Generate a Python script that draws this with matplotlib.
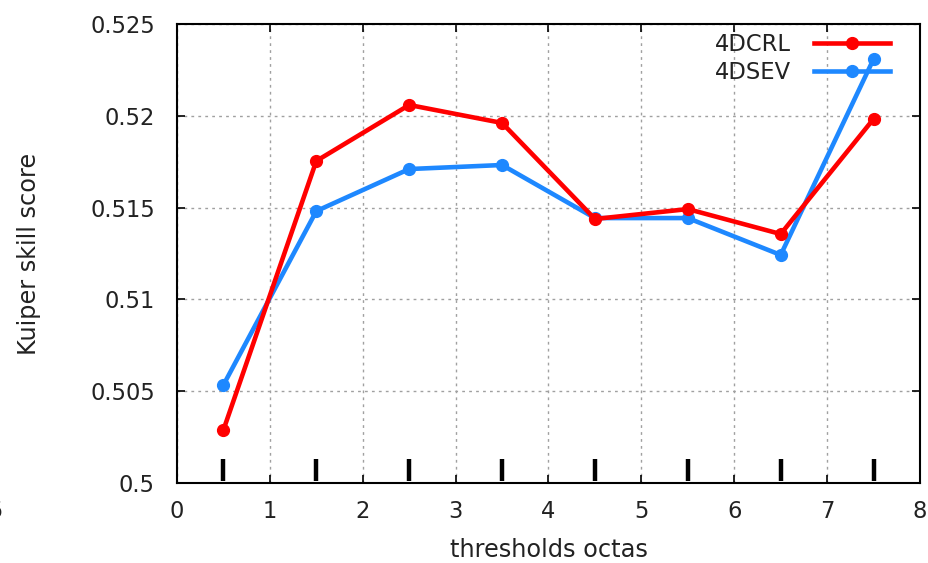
import matplotlib
matplotlib.use("Agg")
import matplotlib.pyplot as plt

thresholds = [0.5, 1.5, 2.5, 3.5, 4.5, 5.5, 6.5, 7.5]
crl = [0.50289, 0.51754, 0.52059, 0.51961, 0.51438, 0.51492, 0.51356, 0.51983]
sev = [0.50534, 0.51481, 0.51710, 0.51732, 0.51443, 0.51443, 0.51242, 0.52309]
bar_low = 0.50011
bar_high = 0.5013
xticks = [0, 1, 2, 3, 4, 5, 6, 7, 8]
yticks = [0.5, 0.505, 0.51, 0.515, 0.52, 0.525]
ytick_labels = ["0.5", "0.505", "0.51", "0.515", "0.52", "0.525"]

plt.rcParams['font.family'] = ['DejaVu Sans']
txt_color = '#222222'

fig = plt.figure(figsize=(9.29, 5.63), dpi=100)
ax = fig.add_axes([177/929, 1-483/563, 743/929, 459/563])

ax.vlines(thresholds, bar_low, bar_high, colors='black', lw=3.2, zorder=2)
ax.plot(thresholds, crl, color='#ff0000', lw=3.3, marker='o', ms=8.5, label='4DCRL', zorder=4)
ax.plot(thresholds, sev, color='#1e88ff', lw=3.3, marker='o', ms=8.5, label='4DSEV', zorder=3)

ax.set_xlim(0, 8)
ax.set_ylim(0.5, 0.525)
ax.set_xticks(xticks)
ax.set_yticks(yticks)
ax.set_yticklabels(ytick_labels)
ax.tick_params(direction='in', top=True, right=True, length=6, width=1.2,
               labelsize=16.3, colors='black', labelcolor=txt_color)
ax.tick_params(axis='y', pad=16)
ax.tick_params(axis='x', pad=12)
ax.grid(True, color='#a0a0a0', linestyle=(0, (2, 3)), lw=1)
for s in ax.spines.values():
    s.set_linewidth(1.5)

ax.set_xlabel('thresholds octas', fontsize=17.3, labelpad=11, color=txt_color)
ax.set_ylabel('Kuiper skill score', fontsize=17.3, labelpad=35, color=txt_color)

leg = ax.legend(loc='upper right', bbox_to_anchor=((890-177)/743, (483-33)/459),
                frameon=False, fontsize=16.3, markerfirst=False,
                handlelength=3.36, borderaxespad=0, borderpad=0,
                labelspacing=0.22, handletextpad=1.0)
for t in leg.get_texts():
    t.set_color(txt_color)

fig.text(3/929, 1-512/563, '5', fontsize=16.3, color=txt_color, ha='right', va='center')

fig.savefig('out.png', dpi=100)
